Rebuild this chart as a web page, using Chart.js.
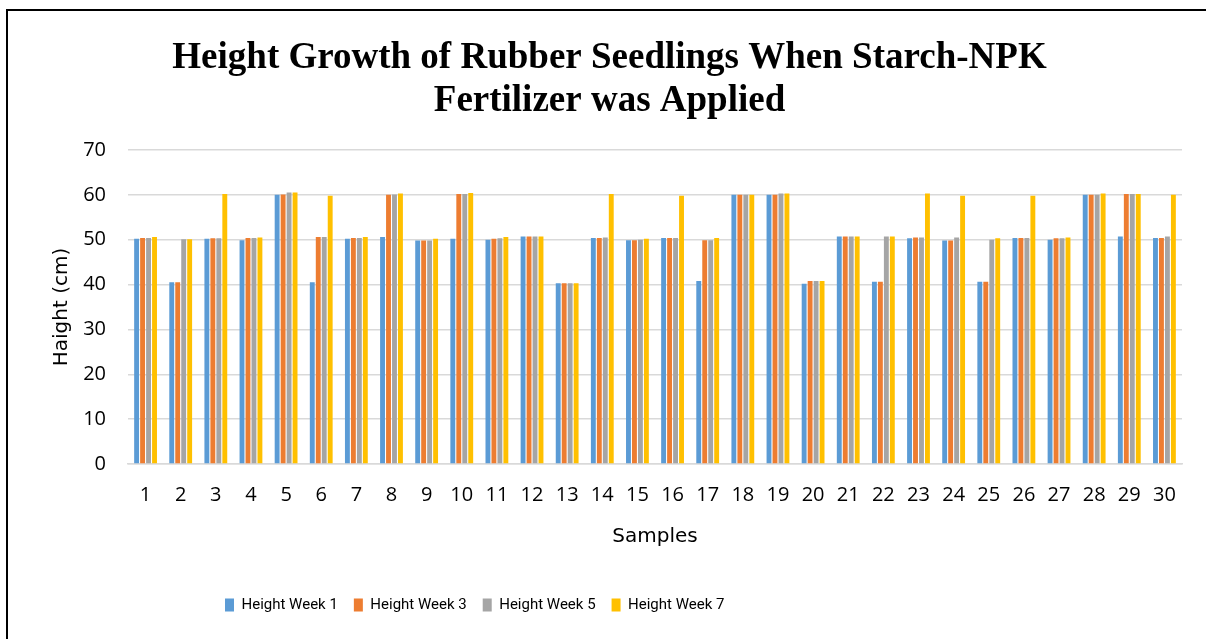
<!DOCTYPE html>
<html>
<head>
<meta charset="utf-8">
<script src="https://cdn.jsdelivr.net/npm/chart.js@4.4.1/dist/chart.umd.min.js"></script>
<style>
  html, body { margin: 0; padding: 0; background: #ffffff; }
  canvas { display: block; }
</style>
</head>
<body>
<canvas id="c" width="1206" height="639"></canvas>
<script>
const samples = ['1','2','3','4','5','6','7','8','9','10','11','12','13','14','15','16','17','18','19','20','21','22','23','24','25','26','27','28','29','30'];
const seriesNames = ['Height Week 1', 'Height Week 3', 'Height Week 5', 'Height Week 7'];
const week1 = [50.2,40.5,50.2,49.9,60.0,40.5,50.2,50.6,49.8,50.2,50.0,50.7,40.3,50.4,49.9,50.4,40.8,60.0,60.0,40.2,50.7,40.6,50.3,49.8,40.6,50.4,50.0,60.0,50.7,50.4];
const week3 = [50.4,40.5,50.3,50.4,60.1,50.6,50.4,60.0,49.8,60.2,50.2,50.7,40.3,50.4,49.9,50.4,49.9,60.0,60.0,40.8,50.7,40.6,50.5,49.8,40.6,50.4,50.3,60.0,60.2,50.4];
const week5 = [50.4,50.1,50.3,50.4,60.5,50.6,50.4,60.1,49.8,60.2,50.3,50.7,40.3,50.5,50.0,50.4,49.9,60.0,60.3,40.8,50.7,50.7,50.5,50.5,50.0,50.4,50.3,60.0,60.2,50.7];
const week7 = [50.6,50.1,60.2,50.5,60.5,59.8,50.6,60.3,50.2,60.4,50.6,50.7,40.3,60.2,50.2,59.8,50.4,60.0,60.3,40.8,50.7,50.7,60.3,59.8,50.3,59.8,50.5,60.3,60.2,60.0];
const titleLines = ['Height Growth of Rubber Seedlings When Starch-NPK', 'Fertilizer was Applied'];
const yTitle = 'Haight (cm)';
const xTitle = 'Samples';

const colors = ['#5B9BD5', '#ED7D31', '#A5A5A5', '#FFC000'];
const allSeries = [week1, week3, week5, week7];

const frame = {
  id: 'frame',
  beforeDraw(chart) {
    const ctx = chart.ctx;
    ctx.save();
    ctx.fillStyle = '#ffffff';
    ctx.fillRect(0, 0, chart.width, chart.height);
    ctx.restore();
  },
  afterDraw(chart) {
    const ctx = chart.ctx;
    ctx.save();
    ctx.strokeStyle = '#000000';
    ctx.lineWidth = 2;
    ctx.beginPath();
    ctx.moveTo(7, chart.height);
    ctx.lineTo(7, 10);
    ctx.lineTo(chart.width, 10);
    ctx.stroke();
    ctx.restore();
  },
  afterLayout(chart) {
    if (chart.titleBlock) {
      chart.titleBlock.left += 15;
      chart.titleBlock.right += 15;
    }
    if (chart.legend) {
      chart.legend.left = 209;
    }
  }
};

new Chart(document.getElementById('c'), {
  type: 'bar',
  data: {
    labels: samples,
    datasets: allSeries.map((d, i) => ({
      label: seriesNames[i],
      data: d,
      backgroundColor: colors[i],
      borderWidth: 0,
      categoryPercentage: 0.68,
      barPercentage: 0.82
    }))
  },
  options: {
    responsive: false,
    devicePixelRatio: 1,
    animation: false,
    layout: { padding: { top: 10, left: 7, right: 24, bottom: 16.5 } },
    plugins: {
      title: {
        display: true,
        text: titleLines,
        color: '#000000',
        font: { family: '"Liberation Serif", "Times New Roman", serif', size: 37, weight: 'bold', lineHeight: 1.162 },
        padding: { top: 26.5, bottom: 27.5 }
      },
      legend: {
        position: 'bottom',
        align: 'start',
        labels: {
          color: '#000000',
          font: { family: 'Roboto, "Open Sans", sans-serif', size: 15 },
          boxWidth: 9,
          boxHeight: 13,
          padding: 16
        }
      },
      tooltip: { enabled: false }
    },
    scales: {
      x: {
        grid: { display: false },
        border: { display: true, color: '#d9d9d9', width: 1.5 },
        ticks: {
          color: '#000000',
          font: { family: '"Open Sans", sans-serif', size: 20 },
          padding: 11,
          maxRotation: 0,
          autoSkip: false
        },
        title: {
          display: true,
          text: xTitle,
          color: '#000000',
          font: { family: '"DejaVu Sans", sans-serif', size: 20 },
          padding: { top: 0, bottom: 32.5 }
        },
        afterFit(axis) { axis.height = 117.5; }
      },
      y: {
        min: 0,
        max: 70,
        grid: { color: '#d9d9d9', lineWidth: 1.5, drawTicks: false },
        border: { display: false },
        ticks: {
          stepSize: 10,
          color: '#000000',
          font: { family: '"Open Sans", sans-serif', size: 20 },
          padding: 22
        },
        title: {
          display: true,
          text: yTitle,
          color: '#000000',
          font: { family: '"DejaVu Sans", sans-serif', size: 20 },
          padding: { top: 43, bottom: 0 }
        },
        afterFit(axis) { axis.width = 121; }
      }
    }
  },
  plugins: [frame]
});
</script>
</body>
</html>
